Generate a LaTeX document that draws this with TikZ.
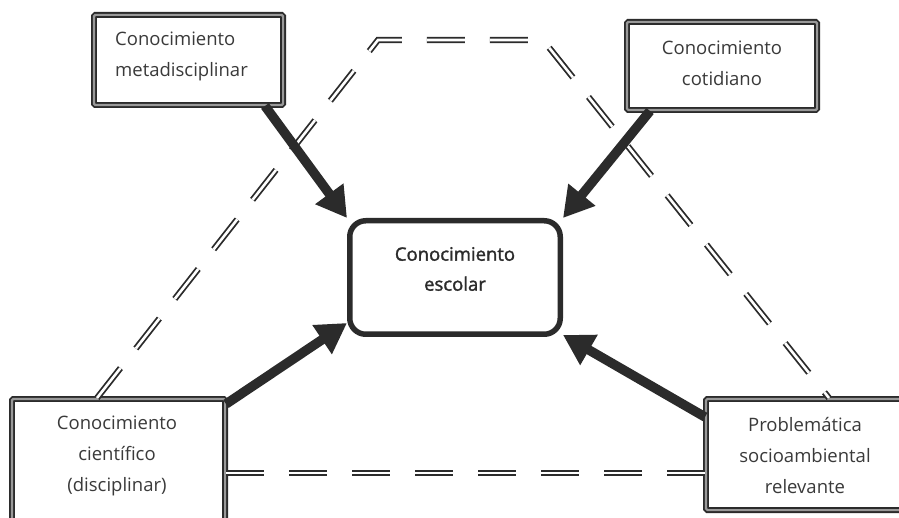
\documentclass[tikz,border=0pt]{standalone}
\usepackage{fontspec}
\setmainfont{Open Sans}
\newfontfamily\semib[FakeBold=1.6]{Open Sans}
\usetikzlibrary{arrows.meta}
\definecolor{ink}{HTML}{2B2B2B}
\definecolor{txt}{HTML}{3A3A3A}
\begin{document}
\begin{tikzpicture}[x=1pt,y=-1pt,
  frame/.style={draw=ink, line width=1.8pt, double=black!40, double distance=2.2pt,
    rounded corners=1.5pt, fill=white, inner sep=0pt},
  lbl/.style={font=\fontsize{18.5}{31}\selectfont, text=txt, align=center, inner sep=0pt},
  bigarrow/.style={draw=ink, line width=9.5pt, -{Triangle[length=30pt,width=33pt]}},
  dline/.style={draw=ink, line width=1.8pt, double=white, double distance=2.6pt,
    dash pattern=on 38pt off 25pt}
]
\useasboundingbox (0,0) rectangle (899,518);
\clip (0,0) rectangle (899,518);
\fill[white] (0,0) rectangle (899,518);

% boxes
\node[frame, minimum width=189.2pt, minimum height=90.2pt] (meta) at (188.5,60) {};
\node[frame, minimum width=190.2pt, minimum height=88.2pt] (coti) at (722,66) {};
\node[frame, minimum width=213.2pt, minimum height=126.2pt] (cien) at (118.5,462) {};
\node[frame, minimum width=198.2pt, minimum height=111.2pt] (prob) at (805,454.5) {};
\node[draw=ink, line width=5.5pt, rounded corners=16pt, fill=white,
  minimum width=210.5pt, minimum height=113.5pt] (esc) at (455,277.5) {};

% texts
\node[lbl, align=left, anchor=west] (metaT) at (115,56.5) {Conocimiento\\metadisciplinar};
\node[lbl] (cotiT) at (722,63.5) {Conocimiento\\cotidiano};
\node[lbl] (cienT) at (117,456) {Conocimiento\\científico\\(disciplinar)};
\node[lbl] (probT) at (805,456) {Problemática\\socioambiental\\relevante};
\node[lbl, text=ink, font=\fontsize{18.5}{30}\semib] (escT) at (455,269) {Conocimiento\\escolar};

% dashed double lines
\coordinate (tl) at (378,40);
\coordinate (tr) at (543,40);
\draw[dline] ([xshift=-21.5pt]cien.north) -- (tl) -- (tr) -- ([xshift=24pt]prob.north);
\draw[dline] ([yshift=-11pt]cien.east) -- ([yshift=-18.5pt]prob.west);

% thick arrows
\draw[bigarrow] ([xshift=76.5pt]meta.south) -- (esc.north west);
\draw[bigarrow] ([xshift=-72pt]coti.south) -- (esc.north east);
\draw[bigarrow] ([yshift=58pt]cien.east) -- ([yshift=14pt]esc.south west);
\draw[bigarrow] ([yshift=37.5pt]prob.west) -- ([yshift=2pt]esc.south east);
\end{tikzpicture}
\end{document}
